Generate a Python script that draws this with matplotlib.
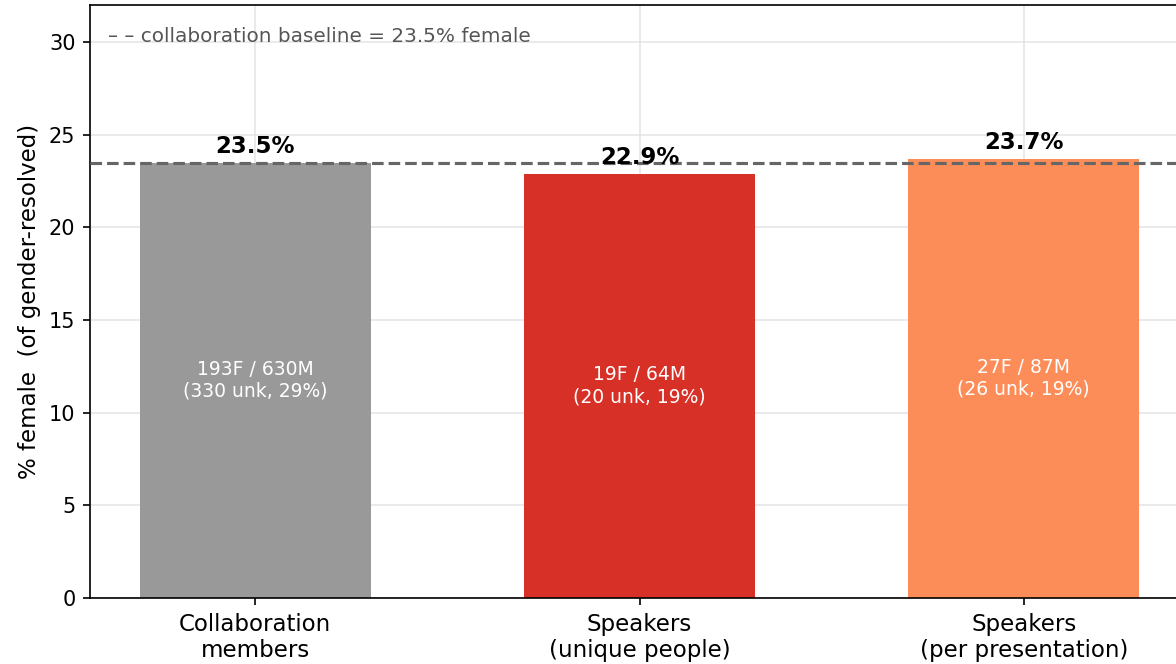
import numpy as np
import matplotlib.pyplot as plt

categories = ["Collaboration\nmembers", "Speakers\n(unique people)", "Speakers\n(per presentation)"]
pct_female = [23.5, 22.9, 23.7]
n_female = [193, 19, 27]
n_male = [630, 64, 87]
n_unknown = [330, 20, 26]
pct_unknown = [29, 19, 19]
bar_colors = ["#999999", "#d73027", "#fc8d59"]
baseline = 23.5

if __name__ == "__main__":
    fig = plt.figure(figsize=(7.84, 664 / 150), dpi=150)
    # axes runs off the right edge, as in the reference crop
    ax = fig.add_axes([90 / 1176, 66 / 664, 1099 / 1176, 593 / 664])

    x = np.arange(len(categories))
    bars = ax.bar(x, pct_female, width=0.6, color=bar_colors, zorder=2)
    ax.axhline(baseline, color="#666666", linestyle="--", linewidth=1.5, zorder=3)

    for xi, v, f, m, u, pu in zip(x, pct_female, n_female, n_male, n_unknown, pct_unknown):
        ax.text(xi, v + 0.25, f"{v:.1f}%", ha="center", va="bottom",
                fontsize=11, fontweight="bold", zorder=4)
        ax.text(xi, v / 2, f"{f}F / {m}M\n({u} unk, {pu}%)", ha="center", va="center",
                fontsize=9, color="white", zorder=4)

    ax.text(0.016, 0.963, f"– – collaboration baseline = {baseline}% female",
            transform=ax.transAxes, ha="left", va="top", fontsize=9.6, color="#555555")

    ax.set_xticks(x)
    ax.set_xticklabels(categories, fontsize=11)
    ax.set_ylabel("% female  (of gender-resolved)", fontsize=11)
    ax.set_ylim(0, 32)
    ax.set_xlim(-0.43, 2.43)
    ax.grid(True, color="#e0e0e0", linewidth=0.8, alpha=0.8)
    ax.set_axisbelow(True)

    fig.savefig("out.png", dpi=150)
